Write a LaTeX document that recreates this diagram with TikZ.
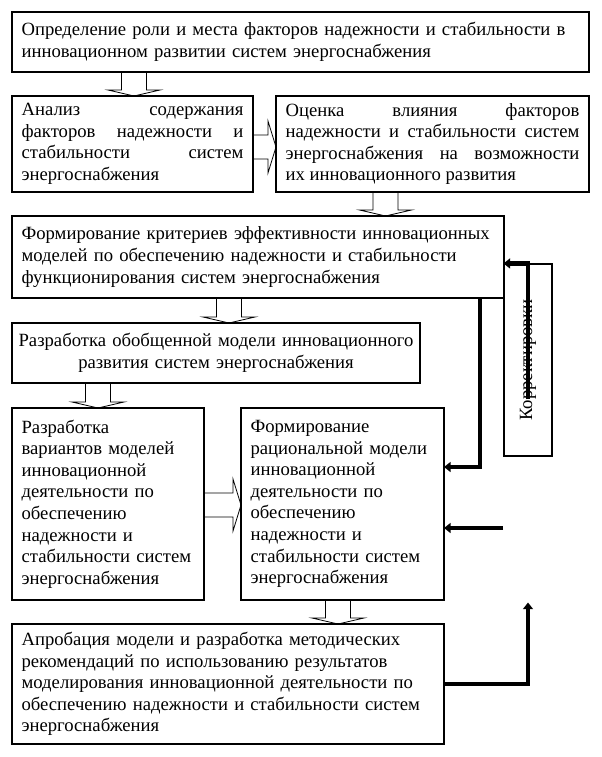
\documentclass[tikz,border=0pt]{standalone}
\usepackage{fontspec}
\setmainfont{Liberation Serif}
\usetikzlibrary{calc,arrows.meta}

\tikzset{
    blok/.style={draw, line width=0.8pt, anchor=north west, inner xsep=7.2pt, inner ysep=0pt,
                 outer sep=0pt, font=\fontsize{14}{16.2}\selectfont},
    polaya/.style={line width=0.6pt},
    tolst/.style={line width=3.4pt, -{Triangle[length=5pt,width=7.5pt]}}
}

% polaya strelka vniz : #1 ot, #2 k, #3 centr (px)
\newcommand{\vniz}[3]{%
    \coordinate (tmpx) at (#3,0);
    \path (tmpx |- #1.south) coordinate (t) (tmpx |- #2.north) coordinate (h);
    \draw[polaya] ($(t)+(-12.5,0)$) -- ($(h)+(-12.5,-6)$) -- ($(h)+(-26,-6)$) -- (h)
        -- ($(h)+(26,-6)$) -- ($(h)+(12.5,-6)$) -- ($(t)+(12.5,0)$);}
% polaya strelka vpravo : #1 ot, #2 k, #3 centr (px)
\newcommand{\vpravo}[3]{%
    \coordinate (tmpy) at (0,#3);
    \path (tmpy -| #1.east) coordinate (t) (tmpy -| #2.west) coordinate (h);
    \draw[polaya] ($(t)+(0,-12)$) -- ($(h)+(-8,-12)$) -- ($(h)+(-8,-26)$) -- (h)
        -- ($(h)+(-8,26)$) -- ($(h)+(-8,12)$) -- ($(t)+(0,12)$);}

\begin{document}
\begin{tikzpicture}[x=0.75pt,y=-0.75pt]
        \useasboundingbox (0,0) rectangle (601,757);
        % Bloki
            \node[blok, minimum width=432.75pt, minimum height=45pt, text width=418.35pt, align=left] (opred) at (12,12)
                {Определение роли и места факторов надежности и стабильности в\\инновационном развитии систем энергоснабжения};
            \node[blok, minimum width=180.75pt, minimum height=72pt, text width=166.35pt, align=justify] (analiz) at (12,96)
                {Анализ содержания\linebreak факторов надежности и\linebreak стабильности систем\linebreak энергоснабжения};
            \node[blok, minimum width=234.75pt, minimum height=72pt, text width=220.35pt, align=justify] (ocenka) at (276,96)
                {Оценка влияния факторов\linebreak надежности и стабильности систем\linebreak энергоснабжения на возможности\linebreak их инновационного развития};
            \node[blok, minimum width=369pt, minimum height=61.5pt, text width=354.6pt, align=left] (kriter) at (12,216)
                {Формирование критериев эффективности инновационных\\моделей по обеспечению надежности и стабильности\\функционирования систем энергоснабжения};
            \node[blok, inner xsep=2pt, minimum width=306pt, minimum height=45pt, text width=302pt, align=center] (obobsh) at (12,323)
                {Разработка обобщенной модели инновационного\\развития систем энергоснабжения};
            \node[blok, minimum width=144pt, minimum height=144pt, text width=129.6pt, align=left] (varian) at (12,408)
                {Разработка\\вариантов моделей\\инновационной\\деятельности по\\обеспечению\\надежности и\\стабильности систем\\энергоснабжения};
            \node[blok, minimum width=152.25pt, minimum height=144pt, text width=137.85pt, align=left] (racion) at (241,408)
                {Формирование\\рациональной модели\\инновационной\\деятельности по\\обеспечению\\надежности и\\стабильности систем\\энергоснабжения};
            \node[blok, minimum width=324pt, minimum height=90pt, text width=309.6pt, align=left] (aprob) at (12,624)
                {Апробация модели и разработка методических\\рекомендаций по использованию результатов\\моделирования инновационной деятельности по\\обеспечению надежности и стабильности систем\\энергоснабжения};
        % Korrektirovki
            \node[draw, line width=0.8pt, rotate=90, minimum width=144pt, minimum height=36pt, inner sep=0pt,
                  font=\fontsize{14}{16.2}\selectfont] (korr) at (528,360) {Корректировки};
        % Polye strelki
            \vniz{opred}{analiz}{134}
            \vpravo{analiz}{ocenka}{147}
            \vniz{ocenka}{kriter}{385.5}
            \vniz{kriter}{obobsh}{229}
            \vniz{obobsh}{varian}{98}
            \vpravo{varian}{racion}{505}
            \vniz{racion}{aprob}{338}
        % Obratnaya svyaz
            \coordinate (svob1) at ($(korr.east)+(0,136)$);
            \coordinate (svob2) at ($(racion.east)+(59,24)$);
            \draw[tolst] (svob1) -- (korr.east) -- (korr.north east); % vverh k kriter
            \draw[tolst] ($(kriter.south east)+(-24,0)$) |- ($(racion.east)+(0,-37)$);
            \draw[tolst] (svob2) -- ($(racion.east)+(0,24)$);
            \draw[tolst] (aprob.east) -| ($(korr.west)+(0,146)$);
\end{tikzpicture}
\end{document}
